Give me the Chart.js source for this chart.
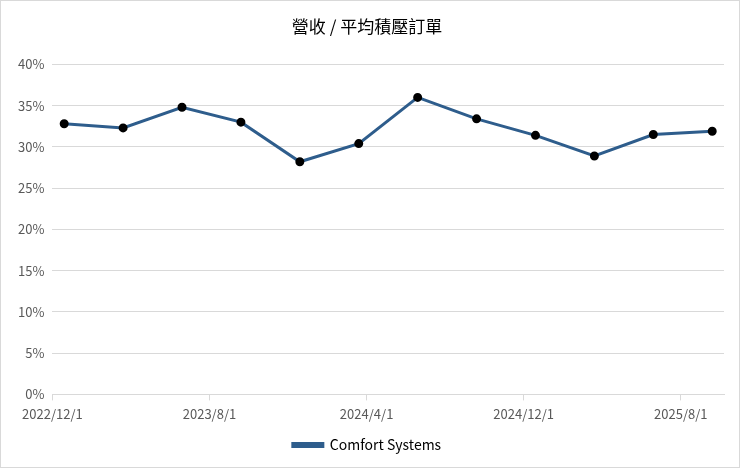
<!DOCTYPE html>
<html>
<head>
<meta charset="utf-8">
<script src="https://cdn.jsdelivr.net/npm/chart.js@4"></script>
<style>
  html, body { margin: 0; padding: 0; background: #fff; }
  #wrap { width: 740px; height: 468px; }
</style>
</head>
<body>
<div id="wrap"><canvas id="chart" width="740" height="468"></canvas></div>
<script>
// months since 2022/12/1 for each quarterly point
const monthPos = [0.6, 3.6, 6.6, 9.6, 12.6, 15.6, 18.6, 21.6, 24.6, 27.6, 30.6, 33.6];
const values = [32.8, 32.3, 34.8, 33.0, 28.2, 30.4, 36.0, 33.4, 31.4, 28.9, 31.5, 31.9];
const tickMonths = [0, 8, 16, 24, 32];
const tickLabels = ['2022/12/1', '2023/8/1', '2024/4/1', '2024/12/1', '2025/8/1'];

const font = "'Noto Sans CJK TC', 'Noto Sans', sans-serif";
Chart.defaults.font.family = font;
Chart.defaults.color = '#595959';

// thin grey frame around the whole chart
const frame = {
    id: 'frame',
    afterDraw(c) {
        const ctx = c.ctx;
        ctx.save();
        ctx.strokeStyle = '#d9d9d9';
        ctx.lineWidth = 1;
        ctx.strokeRect(0.5, 0.5, c.width - 1, c.height - 1);
        ctx.restore();
    }
};

new Chart(document.getElementById('chart'), {
    type: 'line',
    data: {
        datasets: [{
            label: 'Comfort Systems',
            data: monthPos.map((m, i) => ({ x: m, y: values[i] })),
            borderColor: '#2e5d8c',
            borderWidth: 3,
            pointBackgroundColor: '#000',
            pointBorderColor: '#000',
            pointRadius: 3,
            tension: 0
        }]
    },
    options: {
        responsive: false,
        animation: false,
        layout: { padding: { left: 10, right: 16, top: 8, bottom: 6 } },
        plugins: {
            title: { display: true, text: '營收 / 平均積壓訂單', color: '#000', font: { size: 17, weight: 'normal' }, padding: { top: 8, bottom: 28 } },
            legend: {
                position: 'bottom',
                labels: { color: '#000', font: { size: 14 }, boxWidth: 30, boxHeight: 3 }
            }
        },
        scales: {
            x: {
                type: 'linear', min: 0, max: 34.2,
                afterBuildTicks: s => { s.ticks = tickMonths.map(v => ({ value: v })); },
                ticks: { callback: v => tickLabels[tickMonths.indexOf(v)], font: { size: 13 }, maxRotation: 0, autoSkip: false, padding: 6 },
                grid: { drawOnChartArea: false, color: '#d9d9d9', tickLength: 6 },
                border: { color: '#d9d9d9' }
            },
            y: {
                min: 0, max: 40,
                ticks: { stepSize: 5, callback: v => v + '%', font: { size: 13 }, padding: 8 },
                grid: { color: '#d9d9d9', drawTicks: false },
                border: { display: false }
            }
        }
    },
    plugins: [frame]
});
</script>
</body>
</html>
